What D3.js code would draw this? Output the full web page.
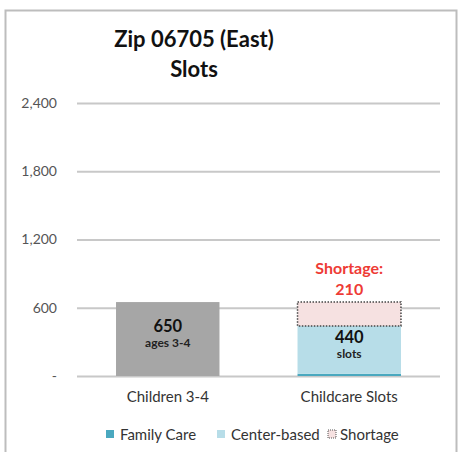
<!DOCTYPE html>
<html>
<head>
<meta charset="utf-8">
<title>Zip 06705 (East) Slots</title>
<style>
  body { margin: 0; background: #fff; }
  svg { display: block; font-family: Lato, "Open Sans", sans-serif; }
  .grid line { stroke: #c8c8c8; stroke-width: 2; }
  .grid path { display: none; }
  .axis--y text { fill: #555; font-size: 14px; }
  .xlab { fill: #333; font-size: 15px; text-anchor: middle; }
  .legend text { fill: #333; font-size: 15px; }
</style>
</head>
<body>
<svg width="458" height="452"></svg>
<script src="https://d3js.org/d3.v7.min.js"></script>
<script>

// chart data
var categories = ["Children 3-4", "Childcare Slots"];
var children = [650, 0];
var familyCare = [0, 20];
var centerBased = [0, 420];
var shortage = [0, 210];
var yTicks = [0, 600, 1200, 1800, 2400];
var legendNames = ["Family Care", "Center-based", "Shortage"];

var svg = d3.select("svg"),
    margin = {top: 103, right: 18, bottom: 76, left: 77},
    width = +svg.attr("width") - margin.left - margin.right,
    height = +svg.attr("height") - margin.top - margin.bottom,
    g = svg.append("g").attr("transform", "translate(" + margin.left + "," + margin.top + ")");

// outer frame (bottom runs off the picture)
svg.append("path")
    .attr("d", "M5.5,452 V10.5 H456.5 V452")
    .attr("fill", "none")
    .attr("stroke", "#bdbdbd")
    .attr("stroke-width", 2);

// title
svg.append("text")
    .attr("x", 194).attr("y", 47)
    .attr("text-anchor", "middle")
    .style("font-size", "22px").style("font-weight", "bold").style("fill", "#111")
    .text("Zip 06705 (East)");
svg.append("text")
    .attr("x", 194).attr("y", 77)
    .attr("text-anchor", "middle")
    .style("font-size", "22px").style("font-weight", "bold").style("fill", "#111")
    .text("Slots");

var x = d3.scaleBand().domain(categories).range([0, width]).paddingInner(0.43).paddingOuter(0.215);
var y = d3.scaleLinear().domain([0, 2400]).range([height, 0]);

// gridlines
g.append("g")
    .attr("class", "grid")
    .call(d3.axisLeft(y).tickValues(yTicks).tickSize(-width).tickFormat(""));

// y labels
g.append("g")
    .attr("class", "axis--y")
    .selectAll("text")
    .data(yTicks)
    .enter().append("text")
      .attr("x", -20)
      .attr("y", function(d) { return y(d); })
      .attr("dy", "0.35em")
      .attr("text-anchor", "end")
      .text(function(d) { return d === 0 ? "-" : d3.format(",")(d); });

// children bar
g.append("rect")
    .attr("x", x(categories[0]))
    .attr("y", y(children[0]))
    .attr("width", x.bandwidth())
    .attr("height", y(0) - y(children[0]))
    .attr("fill", "#a6a6a6");

var c1 = categories[1];
// family care
g.append("rect")
    .attr("x", x(c1)).attr("y", y(familyCare[1]))
    .attr("width", x.bandwidth())
    .attr("height", y(0) - y(familyCare[1]))
    .attr("fill", "#4aa8bf");
// center-based
g.append("rect")
    .attr("x", x(c1)).attr("y", y(familyCare[1] + centerBased[1]))
    .attr("width", x.bandwidth())
    .attr("height", y(familyCare[1]) - y(familyCare[1] + centerBased[1]))
    .attr("fill", "#b7dde8");
// shortage
var sBase = familyCare[1] + centerBased[1];
g.append("rect")
    .attr("x", x(c1)).attr("y", y(sBase + shortage[1]))
    .attr("width", x.bandwidth())
    .attr("height", y(sBase) - y(sBase + shortage[1]))
    .attr("fill", "#f6e1e1")
    .attr("stroke", "#444")
    .attr("stroke-width", 1.5)
    .attr("stroke-dasharray", "1.5,1.5");

// bar labels
var cx0 = x(categories[0]) + x.bandwidth() / 2,
    cx1 = x(c1) + x.bandwidth() / 2;
g.append("text").attr("x", cx0).attr("y", y(children[0]) + 30)
    .attr("text-anchor", "middle").style("font-size", "16.5px").style("font-weight", "bold").style("fill", "#111")
    .text(d3.format(",")(children[0]));
g.append("text").attr("x", cx0).attr("y", y(children[0]) + 45)
    .attr("text-anchor", "middle").style("font-size", "12px").style("font-weight", "bold").style("fill", "#222")
    .text("ages 3-4");
g.append("text").attr("x", cx1).attr("y", y(sBase) + 17)
    .attr("text-anchor", "middle").style("font-size", "16.5px").style("font-weight", "bold").style("fill", "#111")
    .text(sBase);
g.append("text").attr("x", cx1).attr("y", y(sBase) + 32)
    .attr("text-anchor", "middle").style("font-size", "12px").style("font-weight", "bold").style("fill", "#222")
    .text("slots");
g.append("text").attr("x", cx1).attr("y", y(sBase + shortage[1]) - 28)
    .attr("text-anchor", "middle").style("font-size", "16px").style("font-weight", "bold").style("fill", "#ee3b35")
    .text("Shortage:");
g.append("text").attr("x", cx1).attr("y", y(sBase + shortage[1]) - 7)
    .attr("text-anchor", "middle").style("font-size", "16px").style("font-weight", "bold").style("fill", "#ee3b35")
    .text(shortage[1]);

// x labels
g.selectAll(".xlab")
    .data(categories)
    .enter().append("text")
      .attr("class", "xlab")
      .attr("x", function(d) { return x(d) + x.bandwidth() / 2; })
      .attr("y", height + 26)
      .text(function(d) { return d; });

// legend
var legendX = [106, 217, 328];
var legendFill = ["#4aa8bf", "#b7dde8", "#f6e1e1"];
var legend = svg.append("g").attr("class", "legend");
legendNames.forEach(function(name, i) {
  var sw = legend.append("rect")
      .attr("x", legendX[i]).attr("y", 430)
      .attr("width", 8).attr("height", 8)
      .attr("fill", legendFill[i]);
  if (i === 2) sw.attr("stroke", "#555").attr("stroke-width", 1).attr("stroke-dasharray", "1,1");
  legend.append("text")
      .attr("x", legendX[i] + (i === 2 ? 12 : 14)).attr("y", 440)
      .text(name);
});

</script>
</body>
</html>
